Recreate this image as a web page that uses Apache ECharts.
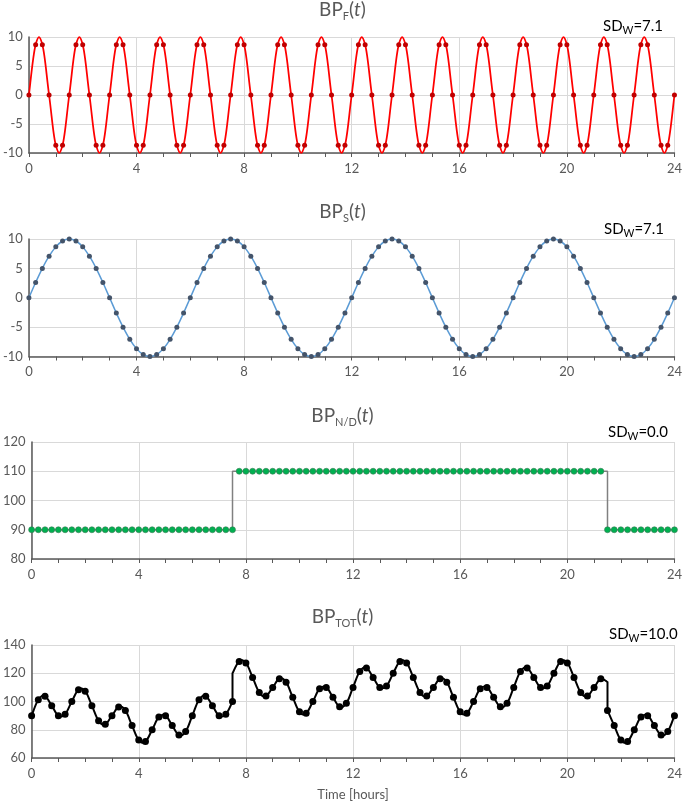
<!DOCTYPE html>
<html><head><meta charset="utf-8">
<script src="https://cdn.jsdelivr.net/npm/echarts@6/dist/echarts.min.js"></script>
<style>html,body{margin:0;padding:0;background:#fff}#c{width:685px;height:802px}</style>
</head><body><div id="c"></div>
<script>
// ---- data ----
const timeH = [0,0.25,0.5,0.75,1,1.25,1.5,1.75,2,2.25,2.5,2.75,3,3.25,3.5,3.75,4,4.25,4.5,4.75,5,5.25,5.5,5.75,6,6.25,6.5,6.75,7,7.25,7.5,7.75,8,8.25,8.5,8.75,9,9.25,9.5,9.75,10,10.25,10.5,10.75,11,11.25,11.5,11.75,12,12.25,12.5,12.75,13,13.25,13.5,13.75,14,14.25,14.5,14.75,15,15.25,15.5,15.75,16,16.25,16.5,16.75,17,17.25,17.5,17.75,18,18.25,18.5,18.75,19,19.25,19.5,19.75,20,20.25,20.5,20.75,21,21.25,21.5,21.75,22,22.25,22.5,22.75,23,23.25,23.5,23.75,24];

const bpFast = [0,8.66,8.66,0,-8.66,-8.66, 0,8.66,8.66,0,-8.66,-8.66, 0,8.66,8.66,0,-8.66,-8.66, 0,8.66,8.66,0,-8.66,-8.66,
  0,8.66,8.66,0,-8.66,-8.66, 0,8.66,8.66,0,-8.66,-8.66, 0,8.66,8.66,0,-8.66,-8.66, 0,8.66,8.66,0,-8.66,-8.66,
  0,8.66,8.66,0,-8.66,-8.66, 0,8.66,8.66,0,-8.66,-8.66, 0,8.66,8.66,0,-8.66,-8.66, 0,8.66,8.66,0,-8.66,-8.66,
  0,8.66,8.66,0,-8.66,-8.66, 0,8.66,8.66,0,-8.66,-8.66, 0,8.66,8.66,0,-8.66,-8.66, 0,8.66,8.66,0,-8.66,-8.66, 0];

const bpSlow = [0,2.59,5,7.07,8.66,9.66,10,9.66,8.66,7.07,5,2.59,0,-2.59,-5,-7.07,-8.66,-9.66,-10,-9.66,-8.66,-7.07,-5,-2.59,
  0,2.59,5,7.07,8.66,9.66,10,9.66,8.66,7.07,5,2.59,0,-2.59,-5,-7.07,-8.66,-9.66,-10,-9.66,-8.66,-7.07,-5,-2.59,
  0,2.59,5,7.07,8.66,9.66,10,9.66,8.66,7.07,5,2.59,0,-2.59,-5,-7.07,-8.66,-9.66,-10,-9.66,-8.66,-7.07,-5,-2.59,
  0,2.59,5,7.07,8.66,9.66,10,9.66,8.66,7.07,5,2.59,0,-2.59,-5,-7.07,-8.66,-9.66,-10,-9.66,-8.66,-7.07,-5,-2.59, 0];

const bpND = [90,90,90,90,90,90,90,90,90,90,90,90,90,90,90,90,90,90,90,90,90,90,90,90,90,90,90,90,90,90,90,
  110,110,110,110,110,110,110,110,110,110,110,110,110,110,110,110,110,110,110,110,110,110,110,110,110,110,110,110,
  110,110,110,110,110,110,110,110,110,110,110,110,110,110,110,110,110,110,110,110,110,110,110,110,110,110,110,
  90,90,90,90,90,90,90,90,90,90,90];

const bpTot = [90,101.25,103.66,97.07,90,91,100,108.32,107.32,97.07,86.34,83.93,90,96.07,93.66,82.93,72.68,71.68,80,89,90,82.93,76.34,78.75,90,101.25,103.66,97.07,90,91,100,
  128.32,127.32,117.07,106.34,103.93,110,116.07,113.66,102.93,92.68,91.68,100,109,110,102.93,96.34,98.75,
  110,121.25,123.66,117.07,110,111,120,128.32,127.32,117.07,106.34,103.93,110,116.07,113.66,102.93,92.68,91.68,100,109,110,102.93,96.34,98.75,
  110,121.25,123.66,117.07,110,111,120,128.32,127.32,117.07,106.34,103.93,110,116.07,
  93.66,82.93,72.68,71.68,80,89,90,82.93,76.34,78.75,90];

const jumpTimes   = [7.5, 21.5];
const ndJumpFrom  = [90, 110];
const ndJumpTo    = [110, 90];
const totJumpFrom = [100, 113.66];
const totJumpTo   = [120, 93.66];

const panelSubs = ['F', 'S', 'N/D', 'TOT'];
const sdValues  = ['7.1', '7.1', '0.0', '10.0'];
const xTickLabels = [0, 4, 8, 12, 16, 20, 24];
const yMins = [-10, -10, 80, 60];
const yMaxs = [10, 10, 120, 140];
const yIntervals = [5, 5, 10, 20];

// ---- helpers ----
const FONT = 'Lato, "Open Sans", sans-serif';
const GRAY = '#595959';
const TENSION = 0.2;

function withJumps(ts, vs, jt, from, to) {
  const pts = [], straight = [];
  for (let k = 0; k < ts.length; k++) {
    const j = jt.indexOf(ts[k]);
    if (j >= 0 && Math.abs(vs[k] - to[j]) < 1e-6) { pts.push([ts[k], from[j]]); straight.push(pts.length - 1); }
    pts.push([ts[k], vs[k]]);
    if (j >= 0 && Math.abs(vs[k] - from[j]) < 1e-6) { straight.push(pts.length - 1); pts.push([ts[k], to[j]]); }
  }
  return { pts, straight };
}

function curveSeries(gi, pts, straight, color, width) {
  return {
    type: 'custom', xAxisIndex: gi, yAxisIndex: gi, silent: true, z: 2,
    data: [[pts[0][0], pts[0][1]]],
    renderItem: function (params, api) {
      const P = pts.map(p => api.coord([p[0], p[1]]));
      const isS = i => straight.indexOf(i) >= 0;
      let d = 'M' + P[0][0] + ' ' + P[0][1];
      for (let i = 0; i < P.length - 1; i++) {
        if (isS(i)) { d += ' L' + P[i + 1][0] + ' ' + P[i + 1][1]; continue; }
        const p0 = (i > 0 && !isS(i - 1)) ? P[i - 1] : P[i];
        const p3 = (i + 2 < P.length && !isS(i + 1)) ? P[i + 2] : P[i + 1];
        const c1x = P[i][0] + (P[i + 1][0] - p0[0]) * TENSION, c1y = P[i][1] + (P[i + 1][1] - p0[1]) * TENSION;
        const c2x = P[i + 1][0] - (p3[0] - P[i][0]) * TENSION, c2y = P[i + 1][1] - (p3[1] - P[i][1]) * TENSION;
        d += ' C' + c1x + ' ' + c1y + ' ' + c2x + ' ' + c2y + ' ' + P[i + 1][0] + ' ' + P[i + 1][1];
      }
      return { type: 'path', shape: { pathData: d }, style: { fill: 'none', stroke: color, lineWidth: width, lineJoin: 'round' } };
    }
  };
}

function markers(gi, vs, color, size, border) {
  return {
    type: 'scatter', xAxisIndex: gi, yAxisIndex: gi, z: 3, silent: true,
    symbol: 'circle', symbolSize: size,
    itemStyle: { color: color, borderColor: border || color, borderWidth: border ? 0.6 : 0, opacity: 1 },
    data: timeH.map((t, i) => [t, vs[i]])
  };
}

const grids = [
  { left: 28, right: 7, top: 37, height: 116 },
  { left: 28, right: 7, top: 239, height: 117.5 },
  { left: 31, right: 7, top: 442, height: 117 },
  { left: 31, right: 7, top: 645, height: 113 }
];
const titleTops = [-2, 200, 404, 605];
const sdTops = [16, 219, 422, 624];
const sdLefts = [603, 604, 608, 609];

const xAxes = grids.map((g, i) => ({
  type: 'value', gridIndex: i, min: xTickLabels[0], max: xTickLabels[xTickLabels.length - 1],
  interval: xTickLabels[1] - xTickLabels[0],
  axisLine: { show: true, onZero: false, lineStyle: { color: GRAY, width: 1.5 } },
  axisTick: { show: true, length: 4, lineStyle: { color: GRAY, width: 1 } },
  minorTick: { show: true, splitNumber: 4, length: 4, lineStyle: { color: GRAY, width: 1 } },
  splitLine: { show: true, lineStyle: { color: '#D9D9D9', width: 1 } },
  axisLabel: { color: GRAY, fontSize: 13, fontFamily: FONT, margin: 9 },
  name: i === 3 ? 'Time [hours]' : '', nameLocation: 'middle', nameGap: 30,
  nameTextStyle: { color: GRAY, fontSize: 13, fontFamily: FONT }
}));
const yAxes = grids.map((g, i) => ({
  type: 'value', gridIndex: i, min: yMins[i], max: yMaxs[i], interval: yIntervals[i],
  axisLine: { show: true, onZero: false, lineStyle: { color: GRAY, width: 1.5 } },
  axisTick: { show: false },
  splitLine: { show: true, lineStyle: { color: '#D9D9D9', width: 1 } },
  axisLabel: { color: GRAY, fontSize: 13, fontFamily: FONT, margin: 6 }
}));

const titles = [];
panelSubs.forEach((s, i) => {
  titles.push({
    text: '{m|BP}{s|' + s + '}{m|(}{i|t}{m|)}', left: 'center', top: titleTops[i], padding: 0,
    textStyle: { fontWeight: 'normal', rich: {
      m: { fontSize: 19, fontFamily: FONT, fontWeight: 'normal', color: GRAY, lineHeight: 24, verticalAlign: 'middle' },
      i: { fontSize: 19, fontFamily: FONT, fontWeight: 'normal', color: GRAY, fontStyle: 'italic', lineHeight: 24, verticalAlign: 'middle' },
      s: { fontSize: 11, fontFamily: FONT, fontWeight: 'normal', color: GRAY, lineHeight: 11, verticalAlign: 'bottom' }
    } }
  });
  titles.push({
    text: '{m|SD}{s|W}{m|=' + sdValues[i] + '}', left: sdLefts[i], top: sdTops[i], padding: 0,
    textStyle: { fontWeight: 'normal', rich: {
      m: { fontSize: 15, fontFamily: FONT, fontWeight: 'normal', color: '#000', lineHeight: 20, verticalAlign: 'middle' },
      s: { fontSize: 10.5, fontFamily: FONT, fontWeight: 'normal', color: '#000', lineHeight: 10, verticalAlign: 'bottom' }
    } }
  });
});

const fastC = withJumps(timeH, bpFast, [], [], []);
const slowC = withJumps(timeH, bpSlow, [], [], []);
const ndC = withJumps(timeH, bpND, jumpTimes, ndJumpFrom, ndJumpTo);
const totC = withJumps(timeH, bpTot, jumpTimes, totJumpFrom, totJumpTo);

const series = [
  curveSeries(0, fastC.pts, fastC.straight, '#FF0000', 1.75),
  markers(0, bpFast, '#C00000', 5),
  curveSeries(1, slowC.pts, slowC.straight, '#5B9BD5', 1.5),
  markers(1, bpSlow, '#44546A', 5),
  { type: 'line', xAxisIndex: 2, yAxisIndex: 2, z: 2, silent: true, symbol: 'none',
    lineStyle: { color: '#808080', width: 1.5 }, data: ndC.pts },
  markers(2, bpND, '#00B050', 6, '#3a7a55'),
  curveSeries(3, totC.pts, totC.straight, '#000000', 2),
  markers(3, bpTot, '#000000', 7)
];

const chart = echarts.init(document.getElementById('c'), null, { renderer: 'canvas' });
chart.setOption({
  animation: false, backgroundColor: '#fff',
  title: titles, grid: grids, xAxis: xAxes, yAxis: yAxes, series: series
});
</script></body></html>
